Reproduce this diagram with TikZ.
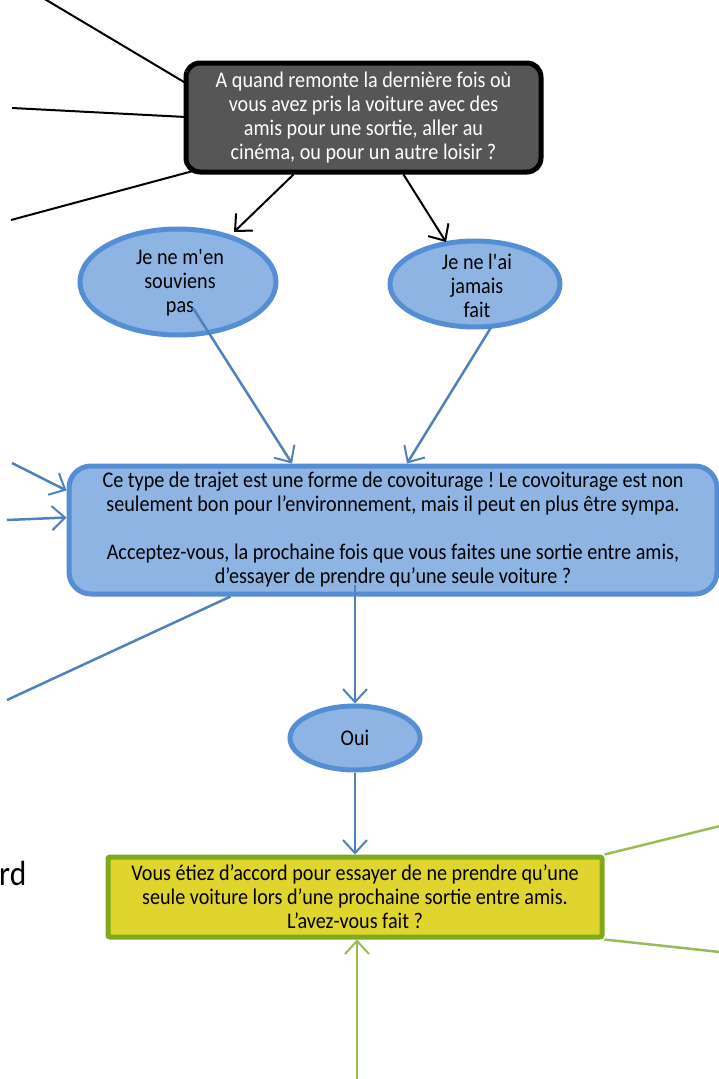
\documentclass[tikz,border=0pt]{standalone}
\usepackage{fontspec}
\setmainfont{Carlito}[FakeStretch=0.9]
\usetikzlibrary{arrows.meta,calc,shapes.geometric}
\definecolor{grayfill}{HTML}{565656}
\definecolor{bluefill}{HTML}{8DB4E2}
\definecolor{blueline}{HTML}{558ED5}
\definecolor{blueconn}{HTML}{4F81BD}
\definecolor{yellowfill}{HTML}{E0D52E}
\definecolor{greenline}{HTML}{7FAA1E}
\definecolor{greenconn}{HTML}{9BBB59}
\tikzset{
  barb/.style={-{Straight Barb[length=13pt,width=24pt,line width=2pt]}},
  txt/.style={font=\fontsize{22.4}{24}\selectfont\frenchspacing, align=flush center, inner sep=0pt},
  graybox/.style={txt, draw=black, line width=5pt, fill=grayfill, text=white, rounded corners=14pt},
  bluebox/.style={txt, draw=blueline, line width=5pt, fill=bluefill, text=black, rounded corners=22pt},
  blueell/.style={txt, ellipse, draw=blueline, line width=5pt, fill=bluefill, text=black},
  yellowbox/.style={txt, draw=greenline, line width=5pt, fill=yellowfill, text=black, rounded corners=2pt},
  blackconn/.style={draw=black, line width=2pt},
  bconn/.style={draw=blueconn, line width=2.5pt},
  gconn/.style={draw=greenconn, line width=2.5pt},
}
\begin{document}
\begin{tikzpicture}[x=1pt,y=-1pt]
\useasboundingbox (0,0) rectangle (718,1079);
\coordinate (k1) at (43,-2);
\coordinate (k2) at (12,108);
\coordinate (k3) at (11,220);
\coordinate (b1) at (12,463);
\coordinate (b2) at (7,520);
\coordinate (b3) at (7,700);
\coordinate (g1) at (720,826);
\coordinate (g2) at (720,952);
\coordinate (g3) at (357,1081);

\draw[blackconn] (k1) -- (189,85);
\draw[blackconn] (k2) -- (186,117);
\draw[blackconn] (k3) -- (193,171);

\node[graybox, minimum width=355pt, minimum height=109pt, text width=345pt] (q) at (363.5,117.5)
  {A quand remonte la dernière fois où\\vous avez pris la voiture avec des\\amis pour une sortie, aller au\\cinéma, ou pour un autre loisir ?};

\node[blueell, minimum width=196pt, minimum height=106pt] (e1) at (178,282) {};
\node[txt] (t1) at (180,283) {Je ne m\textquotesingle en\\souviens\\pas};
\node[blueell, minimum width=170pt, minimum height=86pt] (e2) at (475,284) {};
\node[txt] (t2) at (477,286) {Je ne l\textquotesingle ai\\jamais\\fait};

\draw[blackconn, barb] ($(q.south)+(-70,0)$) -- ($(e1.center)+(56,-50)$);
\draw[blackconn, barb] ($(q.south)+(40,0)$) -- ($(e2.center)+(-29,-42)$);

\node[bluebox, minimum width=648pt, minimum height=128pt, text width=640pt] (c) at (393,530)
  {Ce type de trajet est une forme de covoiturage ! Le covoiturage est non\\seulement bon pour l’environnement, mais il peut en plus être sympa.\\[24pt]Acceptez-vous, la prochaine fois que vous faites une sortie entre amis,\\d’essayer de prendre qu’une seule voiture ?};

\draw[bconn, barb] ($(e1.center)+(15,26)$) -- ($(c.north)+(-101,0)$);
\draw[bconn, barb] (e2.south) ++(16,-2) -- ($(c.north)+(14,0)$);
\draw[bconn, barb] (b1) -- ($(c.north west)+(0,27)$);
\draw[bconn, barb] (b2) -- ($(c.north west)+(0,54)$);
\draw[bconn] ($(c.south west)+(164,0)$) -- (b3);

\node[blueell, minimum width=130pt, minimum height=64pt] (oui) at (355,738) {Oui};
\draw[bconn, barb] ($(c.south)+(-38,-12)$) -- (oui.north);

\node[yellowbox, minimum width=494pt, minimum height=80pt, text width=485pt] (y) at (355,897)
  {Vous étiez d’accord pour essayer de ne prendre qu’une\\seule voiture lors d’une prochaine sortie entre amis.\\L’avez-vous fait ?};
\draw[bconn, barb] (oui.south) -- (y.north);
\draw[gconn] (y.north east) -- (g1);
\draw[gconn] (y.south east) -- (g2);
\draw[gconn, barb] (g3) -- ($(y.south)+(2,0)$);

\node[font=\fontsize{35}{40}\selectfont, anchor=base west, inner sep=0pt] (rd) at (-1,885) {rd};
\end{tikzpicture}
\end{document}
